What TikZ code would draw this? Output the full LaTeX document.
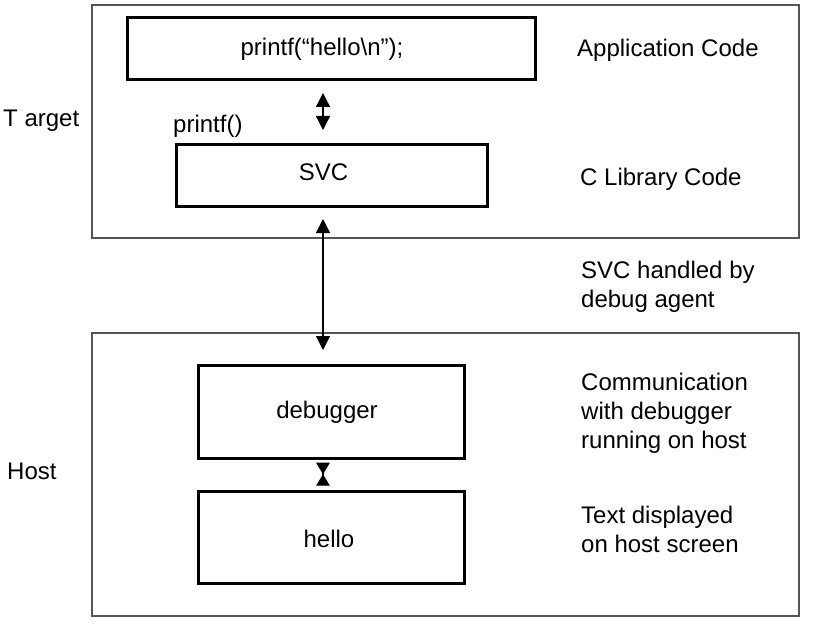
\documentclass[tikz,border=0pt]{standalone}
\usepackage{fontspec}
\setmainfont{Liberation Sans}
\usetikzlibrary{arrows.meta}
\begin{document}
\begin{tikzpicture}[x=1pt,y=-1pt,
  txt/.style={font=\fontsize{24}{29}\selectfont, inner sep=0pt},
  frame/.style={draw={rgb,255:red,85;green,85;blue,85}, line width=1.3pt},
  box/.style={draw=black, line width=3pt, rectangle, inner sep=0pt},
  dbl/.style={line width=1.3pt, {Triangle[length=14pt,width=14pt]}-{Triangle[length=14pt,width=14pt]}},
  hg/.style={line width=1.3pt, {Triangle[reversed,length=11.5pt,width=13.5pt]}-{Triangle[reversed,length=11.5pt,width=13.5pt]}}
]
\useasboundingbox (0,0) rectangle (820,634);
\fill[white] (0,0) rectangle (820,634);

% outer frames
\node[frame, rectangle, inner sep=0pt, minimum width=707pt, minimum height=233pt] (target) at (445.5,121.5) {};
\node[frame, rectangle, inner sep=0pt, minimum width=707pt, minimum height=283pt] (host) at (445.5,474.5) {};

% boxes
\node[box, minimum width=408pt, minimum height=62pt,
      label={[txt, xshift=-9pt, yshift=0pt]center:printf(“hello\textbackslash n”);}] (app) at (331,49) {};
\node[box, minimum width=311pt, minimum height=62pt,
      label={[txt, xshift=-8pt, yshift=3pt]center:SVC}] (svc) at (331.5,175) {};
\node[box, minimum width=266pt, minimum height=93pt,
      label={[txt, xshift=-4pt, yshift=-1pt]center:debugger}] (dbg) at (331,411.5) {};
\node[box, minimum width=266pt, minimum height=92pt,
      label={[txt, xshift=-2pt, yshift=-2pt]center:hello}] (hello) at (331,537) {};

% side labels
\node[txt, anchor=base west] (tgt) at (3,127) {T arget};
\node[txt, anchor=base west] (hst) at (7,479) {Host};
\node[txt, anchor=base west] (pf) at (173,132) {printf()};

% right texts
\node[txt, anchor=base west] (appc) at (577,57) {Application Code};
\node[txt, anchor=base west] (clib) at (580,185) {C Library Code};
\node[txt, anchor=north west, align=left] (svch) at (581,260.5) {SVC handled by\\debug agent};
\node[txt, anchor=north west, align=left] (comm) at (581,372.5) {Communication\\with debugger\\running on host};
\node[txt, anchor=north west, align=left] (tdisp) at (581,505.5) {Text displayed\\on host screen};

% connectors
\coordinate (a1) at (323,93);
\coordinate (a2) at (323,130);
\draw[dbl] (a1) -- (a2);
\coordinate (b1) at (323,219);
\coordinate (b2) at (323,350);
\draw[dbl] (b1) -- (b2);
\coordinate (c1) at (323,462.7);
\coordinate (c2) at (323,485.7);
\draw[hg] (c1) -- (c2);
\end{tikzpicture}
\end{document}
